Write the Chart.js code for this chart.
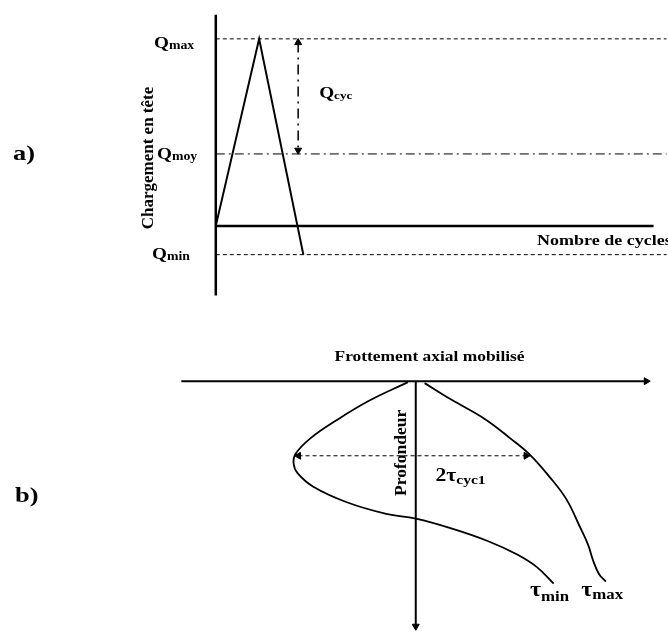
<!DOCTYPE html>
<html>
<head>
<meta charset="utf-8">
<script src="https://cdn.jsdelivr.net/npm/chart.js@4.4.1/dist/chart.umd.min.js"></script>
<style>
  body { margin: 0; background: #fff; }
  #wrap { position: relative; width: 668px; height: 639px; }
  canvas { position: absolute; left: 0; }
</style>
</head>
<body>
<div id="wrap">
  <canvas id="chartA" width="668" height="320" style="top:0"></canvas>
  <canvas id="chartB" width="668" height="319" style="top:320px"></canvas>
</div>
<script>
// a) cyclic head load
const cycles = [0, 1, 2.02];
const headLoad = [0, 6.5, -1];
const levelNames = ['max', 'moy', 'min'];
const levelValues = [6.5, 2.5, -1];
const cycleAxisEnd = 10.1;

// b) mobilised axial friction vs depth
const depthMin = [0.1, 2.0, 4.0, 5.9, 7.5, 8.5, 9.5, 10.9, 12.5, 13.7, 14.2, 15.2, 16.5, 17.9, 19.2, 20.9];
const tauMin = [-0.8, -4.7, -8.0, -10.7, -12.2, -12.4, -12.0, -10.4, -7.0, -3.0, 0, 3.6, 7.3, 10.3, 12.3, 14.0];
const depthMax = [0.2, 1.9, 3.9, 5.9, 7.6, 9.9, 12.2, 14.9, 16.9, 18.5, 19.9, 20.7];
const tauMax = [0.9, 3.6, 7.0, 9.6, 11.6, 13.6, 15.3, 16.6, 17.5, 18.0, 18.6, 19.3];
const cycDepth = 7.7;

const FONT = '"Liberation Serif", "Times New Roman", serif';
const STRETCH = 1.2; // the original text is drawn a bit wide

function toPoints(xs, ys) {
  return xs.map((x, i) => ({ x: x, y: ys[i] }));
}

function lineSet(points, extra) {
  return Object.assign({
    data: points,
    borderColor: '#000',
    backgroundColor: '#000',
    borderWidth: 2,
    pointRadius: 0,
    tension: 0,
    clip: false
  }, extra || {});
}

function arrowSet(points, rotations, extra) {
  return lineSet(points, Object.assign({
    pointStyle: 'triangle',
    pointRadius: points.map((p, i) => (rotations[i] === null ? 0 : 4)),
    pointRotation: rotations.map(r => r || 0),
    pointBorderWidth: 1
  }, extra || {}));
}

// draws wide text, returns the advance in px
function wideText(ctx, text, x, y, size, align) {
  ctx.save();
  ctx.font = 'bold ' + size + 'px ' + FONT;
  ctx.textAlign = align || 'left';
  ctx.translate(x, y);
  ctx.scale(STRETCH, 1);
  ctx.fillText(text, 0, 0);
  const w = ctx.measureText(text).width * STRETCH;
  ctx.restore();
  return w;
}

function subText(ctx, main, sub, x, y, big, small, drop) {
  const w = wideText(ctx, main, x, y, big);
  wideText(ctx, sub, x + w, y + drop, small);
}

function baseOptions(xr, yr, reverse) {
  return {
    responsive: false,
    animation: false,
    layout: { padding: 0 },
    plugins: { legend: { display: false }, tooltip: { enabled: false } },
    scales: {
      x: { type: 'linear', min: xr[0], max: xr[1], display: false },
      y: { type: 'linear', min: yr[0], max: yr[1], display: false, reverse: reverse }
    }
  };
}

// ---------- chart a ----------
const qMax = levelValues[0], qMoy = levelValues[1], qMin = levelValues[2];

const labelsA = {
  id: 'labelsA',
  afterDraw(chart) {
    const ctx = chart.ctx;
    const xs = chart.scales.x, ys = chart.scales.y;
    ctx.save();
    ctx.fillStyle = '#000';
    ctx.textBaseline = 'alphabetic';

    wideText(ctx, 'a)', 13, 160, 22);

    const offs = [9, 5, 4];
    const lx = [154, 157, 152];
    levelValues.forEach((v, i) => {
      subText(ctx, 'Q', levelNames[i], lx[i], ys.getPixelForValue(v) + offs[i], 16, 11.5, 1);
    });

    subText(ctx, 'Q', 'cyc', xs.getPixelForValue(1.9) + 21, ys.getPixelForValue((qMax + qMoy) / 2) + 2, 16, 11, 1);

    wideText(ctx, 'Nombre de cycles', 537, ys.getPixelForValue(0) + 19, 15);

    ctx.translate(153, 158);
    ctx.rotate(-Math.PI / 2);
    ctx.textAlign = 'center';
    ctx.font = 'bold 17px ' + FONT;
    ctx.fillText('Chargement en tête', 0, 0);
    ctx.restore();
  }
};

new Chart(document.getElementById('chartA'), {
  type: 'line',
  data: {
    datasets: [
      lineSet([{ x: 0, y: -2.42 }, { x: 0, y: 7.34 }], { borderWidth: 2.5 }),
      lineSet([{ x: 0, y: 0 }, { x: cycleAxisEnd, y: 0 }], { borderWidth: 2.5 }),
      lineSet([{ x: 0, y: qMax }, { x: 10.4, y: qMax }], { borderWidth: 1, borderDash: [4, 3] }),
      lineSet([{ x: 0, y: qMoy }, { x: 10.4, y: qMoy }], { borderWidth: 1, borderDash: [9, 4, 2, 4] }),
      lineSet([{ x: 0, y: qMin }, { x: 10.4, y: qMin }], { borderWidth: 1, borderDash: [4, 3] }),
      lineSet(toPoints(cycles, headLoad), { borderWidth: 2 }),
      arrowSet([{ x: 1.9, y: qMax - 0.13 }, { x: 1.9, y: qMoy + 0.13 }], [0, 180],
        { borderWidth: 1.5, borderDash: [10, 5, 2, 5] })
    ]
  },
  options: baseOptions([-214 / 44, 454 / 44], [-92 / 29.7, 228 / 29.7], false),
  plugins: [labelsA]
});

// ---------- chart b ----------
const labelsB = {
  id: 'labelsB',
  afterDraw(chart) {
    const ctx = chart.ctx;
    const xs = chart.scales.x, ys = chart.scales.y;
    ctx.save();
    ctx.fillStyle = '#000';
    ctx.textBaseline = 'alphabetic';

    wideText(ctx, 'b)', 15, 182, 22);

    wideText(ctx, 'Frottement axial mobilisé', xs.getPixelForValue(1.4), ys.getPixelForValue(0) - 20, 14.5, 'center');

    subText(ctx, '2τ', 'cyc1', xs.getPixelForValue(2.0), ys.getPixelForValue(cycDepth) + 25, 18, 13, 3);
    subText(ctx, 'τ', 'min', xs.getPixelForValue(11.6), ys.getPixelForValue(22.2), 20, 14, 5);
    subText(ctx, 'τ', 'max', xs.getPixelForValue(16.8), ys.getPixelForValue(22.2), 20, 14, 3);

    ctx.translate(xs.getPixelForValue(-1.0), ys.getPixelForValue(7.4));
    ctx.rotate(-Math.PI / 2);
    ctx.textAlign = 'center';
    ctx.font = 'bold 17.5px ' + FONT;
    ctx.fillText('Profondeur', 0, 0);
    ctx.restore();
  }
};

new Chart(document.getElementById('chartB'), {
  type: 'line',
  data: {
    datasets: [
      arrowSet([{ x: -23.8, y: 0 }, { x: 23.4, y: 0 }], [null, 90], { borderWidth: 2 }),
      arrowSet([{ x: 0, y: 0 }, { x: 0, y: 25.3 }], [null, 180], { borderWidth: 2 }),
      lineSet(toPoints(tauMin, depthMin), { borderWidth: 1.8, tension: 0.4 }),
      lineSet(toPoints(tauMax, depthMax), { borderWidth: 1.8, tension: 0.4 }),
      arrowSet([{ x: -11.9, y: cycDepth }, { x: 11.2, y: cycDepth }], [270, 90],
        { borderWidth: 1, borderDash: [4, 3] })
    ]
  },
  options: baseOptions([-41.7, 25.1], [-5.8, 26.1], true),
  plugins: [labelsB]
});
</script>
</body>
</html>
